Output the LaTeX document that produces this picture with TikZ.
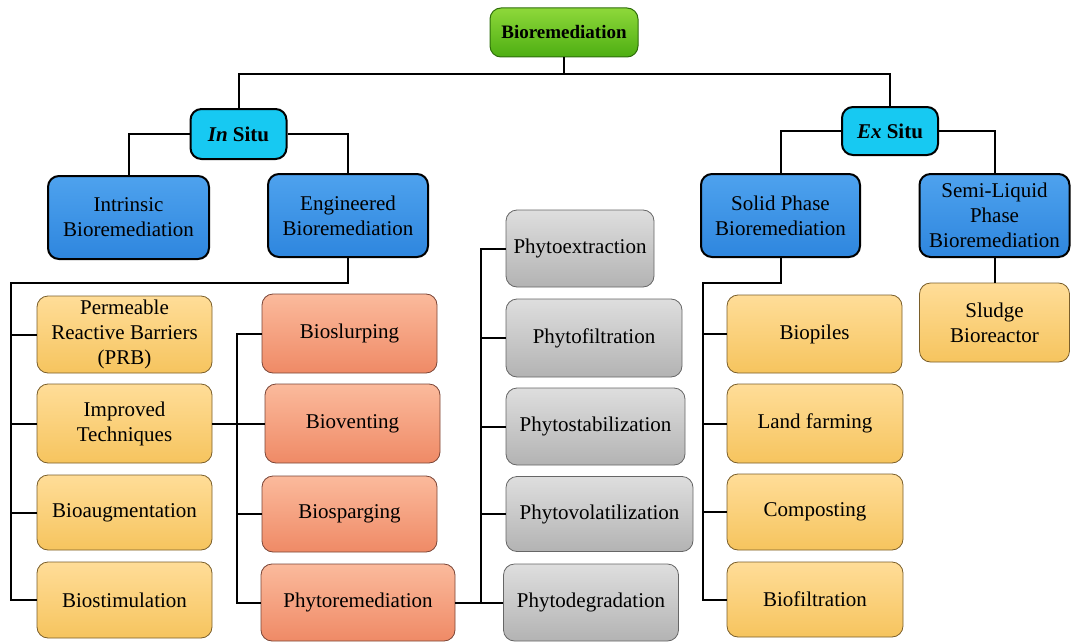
\documentclass[tikz,border=0pt]{standalone}
\usepackage{fontspec}
\setmainfont{Liberation Serif}
\definecolor{gTop}{HTML}{8ED83A}
\definecolor{gBot}{HTML}{4DAE12}
\definecolor{gDraw}{HTML}{2E6E0A}
\definecolor{cyanF}{HTML}{17C9F2}
\definecolor{bTop}{HTML}{4EA2EE}
\definecolor{bBot}{HTML}{2E86DE}
\definecolor{oTop}{HTML}{FFDD98}
\definecolor{oBot}{HTML}{F6C45E}
\definecolor{oDraw}{HTML}{7A5E2A}
\definecolor{rTop}{HTML}{FBBA9C}
\definecolor{rBot}{HTML}{EF8A66}
\definecolor{rDraw}{HTML}{7A4536}
\definecolor{kTop}{HTML}{DEDEDE}
\definecolor{kBot}{HTML}{B3B3B3}
\definecolor{kDraw}{HTML}{666666}
\begin{document}
\begin{tikzpicture}[x=1pt,y=-1pt,
  basebox/.style={rounded corners=11pt, align=center, inner sep=0pt,
    font=\fontsize{21}{25}\selectfont},
  greenbox/.style={basebox, draw=gDraw, line width=1pt, top color=gTop, bottom color=gBot,
    font=\fontsize{19}{23}\selectfont\bfseries},
  cyanbox/.style={basebox, draw=black, line width=2pt, fill=cyanF, font=\fontsize{21}{25}\selectfont\bfseries},
  bluebox/.style={basebox, draw=black, line width=2pt, top color=bTop, bottom color=bBot},
  orbox/.style={basebox, draw=oDraw, line width=0.8pt, top color=oTop, bottom color=oBot},
  redbox/.style={basebox, draw=rDraw, line width=0.8pt, top color=rTop, bottom color=rBot},
  greybox/.style={basebox, draw=kDraw, line width=0.8pt, top color=kTop, bottom color=kBot},
  conn/.style={draw=black, line width=2pt}]
\useasboundingbox (0,0) rectangle (1071,642);

% level 0
\node[greenbox, minimum width=148pt, minimum height=49pt] (bio) at (564,32.5) {Bioremediation};
% level 1
\node[cyanbox, minimum width=96pt, minimum height=50pt] (insitu) at (238.5,134) {\textit{In} Situ};
\node[cyanbox, minimum width=96pt, minimum height=48pt] (exsitu) at (890,131) {\textit{Ex} Situ};
% level 2
\node[bluebox, minimum width=161pt, minimum height=83pt] (intrinsic) at (128.5,217.5) {Intrinsic\\Bioremediation};
\node[bluebox, minimum width=160pt, minimum height=83pt] (engineered) at (348,215.5) {Engineered\\Bioremediation};
\node[bluebox, minimum width=159pt, minimum height=83pt] (solid) at (780.5,215.5) {Solid Phase\\Bioremediation};
\node[bluebox, minimum width=150pt, minimum height=83pt] (semiliq) at (994.5,215.5) {Semi-Liquid\\Phase\\Bioremediation};
% engineered children
\node[orbox, minimum width=175pt, minimum height=77pt] (prb) at (124.5,334.5) {Permeable\\Reactive Barriers\\(PRB)};
\node[orbox, minimum width=175pt, minimum height=79pt] (improved) at (124.5,423.5) {Improved\\Techniques};
\node[orbox, minimum width=175pt, minimum height=75pt] (bioaug) at (124.5,512.5) {Bioaugmentation};
\node[orbox, minimum width=175pt, minimum height=76pt] (biostim) at (124.5,600) {Biostimulation};
% improved techniques children
\node[redbox, minimum width=175pt, minimum height=79pt] (bioslurp) at (349.5,333.5) {Bioslurping};
\node[redbox, minimum width=175pt, minimum height=79pt] (biovent) at (352.5,423.5) {Bioventing};
\node[redbox, minimum width=175pt, minimum height=76pt] (biosparg) at (349.5,514) {Biosparging};
\node[redbox, minimum width=194pt, minimum height=77pt] (phytorem) at (358,602.5) {Phytoremediation};
% phytoremediation children
\node[greybox, minimum width=148pt, minimum height=77pt] (phytoext) at (580,248.5) {Phytoextraction};
\node[greybox, minimum width=176pt, minimum height=78pt] (phytofilt) at (594,338) {Phytofiltration};
\node[greybox, minimum width=179pt, minimum height=77pt] (phytostab) at (595.5,426.5) {Phytostabilization};
\node[greybox, minimum width=187pt, minimum height=75pt] (phytovol) at (599.5,514) {Phytovolatilization};
\node[greybox, minimum width=175pt, minimum height=77pt] (phytodeg) at (591,602.5) {Phytodegradation};
% solid phase children
\node[orbox, minimum width=175pt, minimum height=78pt] (biopiles) at (814.5,334) {Biopiles};
\node[orbox, minimum width=176pt, minimum height=79pt] (landfarm) at (815,423.5) {Land farming};
\node[orbox, minimum width=176pt, minimum height=76pt] (compost) at (815,512) {Composting};
\node[orbox, minimum width=176pt, minimum height=75pt] (biofilt) at (815,599.5) {Biofiltration};
% semi-liquid child
\node[orbox, minimum width=150pt, minimum height=79pt] (sludge) at (994.5,322.5) {Sludge\\Bioreactor};

% junction coordinates
\coordinate (j0) at (564,74);
\coordinate (jl) at (11,283);
\coordinate (rb) at (237,0);
\coordinate (gb) at (481,0);
\coordinate (jr) at (703,283);

% connectors
\draw[conn] (bio.south) -- (j0);
\draw[conn] (insitu.north) |- (j0) -| (exsitu.north);
\draw[conn] (intrinsic.north) |- (insitu.west);
\draw[conn] (engineered.north) |- (insitu.east);
\draw[conn] (solid.north) |- (exsitu.west);
\draw[conn] (semiliq.north) |- (exsitu.east);

\draw[conn] (engineered.south) |- (jl) |- (biostim.west);
\draw[conn] (jl |- prb.west) -- (prb.west);
\draw[conn] (jl |- improved.west) -- (improved.west);
\draw[conn] (jl |- bioaug.west) -- (bioaug.west);

\draw[conn] (improved.east) -- (biovent.west);
\draw[conn] (bioslurp.west) -| (rb |- phytorem.west) -- (phytorem.west);
\draw[conn] (rb |- biosparg.west) -- (biosparg.west);

\draw[conn] (phytorem.east) -- (phytodeg.west);
\draw[conn] (phytoext.west) -| (gb |- phytodeg.west);
\draw[conn] (gb |- phytofilt.west) -- (phytofilt.west);
\draw[conn] (gb |- phytostab.west) -- (phytostab.west);
\draw[conn] (gb |- phytovol.west) -- (phytovol.west);

\draw[conn] (solid.south) |- (jr) |- (biofilt.west);
\draw[conn] (jr |- biopiles.west) -- (biopiles.west);
\draw[conn] (jr |- landfarm.west) -- (landfarm.west);
\draw[conn] (jr |- compost.west) -- (compost.west);

\draw[conn] (semiliq.south) -- (sludge.north);
\end{tikzpicture}
\end{document}
